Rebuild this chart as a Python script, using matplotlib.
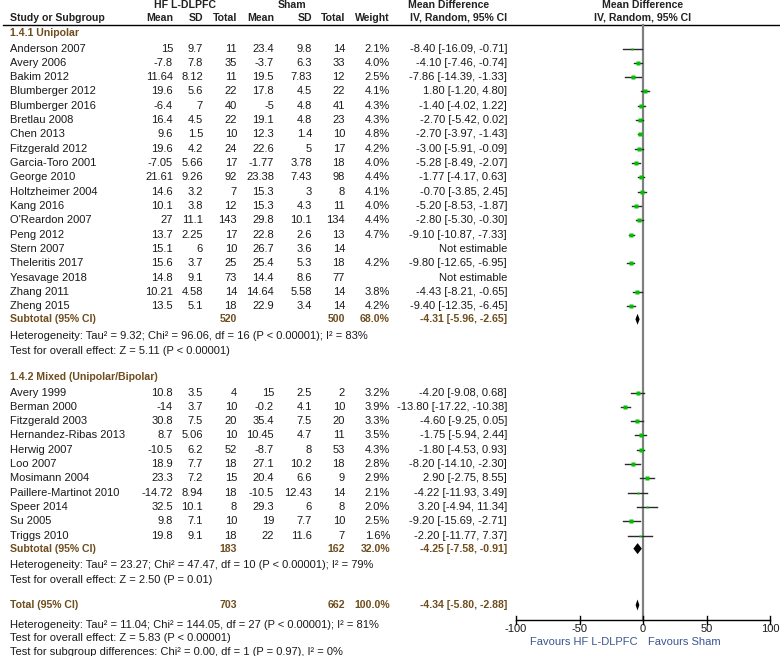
import matplotlib
matplotlib.use("Agg")
import matplotlib.pyplot as plt

plt.rcParams["font.family"] = ["Liberation Sans", "DejaVu Sans"]

# ---- data: 1.4.1 Unipolar ----
uni_names = ["Anderson 2007", "Avery 2006", "Bakim 2012", "Blumberger 2012", "Blumberger 2016",
             "Bretlau 2008", "Chen 2013", "Fitzgerald 2012", "Garcia-Toro 2001", "George 2010",
             "Holtzheimer 2004", "Kang 2016", "O'Reardon 2007", "Peng 2012", "Stern 2007",
             "Theleritis 2017", "Yesavage 2018", "Zhang 2011", "Zheng 2015"]
uni_hf_mean = [15, -7.8, 11.64, 19.6, -6.4, 16.4, 9.6, 19.6, -7.05, 21.61, 14.6, 10.1, 27, 13.7, 15.1, 15.6, 14.8, 10.21, 13.5]
uni_hf_sd = [9.7, 7.8, 8.12, 5.6, 7, 4.5, 1.5, 4.2, 5.66, 9.26, 3.2, 3.8, 11.1, 2.25, 6, 3.7, 9.1, 4.58, 5.1]
uni_hf_n = [11, 35, 11, 22, 40, 22, 10, 24, 17, 92, 7, 12, 143, 17, 10, 25, 73, 14, 18]
uni_sh_mean = [23.4, -3.7, 19.5, 17.8, -5, 19.1, 12.3, 22.6, -1.77, 23.38, 15.3, 15.3, 29.8, 22.8, 26.7, 25.4, 14.4, 14.64, 22.9]
uni_sh_sd = [9.8, 6.3, 7.83, 4.5, 4.8, 4.8, 1.4, 5, 3.78, 7.43, 3, 4.3, 10.1, 2.6, 3.6, 5.3, 8.6, 5.58, 3.4]
uni_sh_n = [14, 33, 12, 22, 41, 23, 10, 17, 18, 98, 8, 11, 134, 13, 14, 18, 77, 14, 14]
uni_weight = [2.1, 4.0, 2.5, 4.1, 4.3, 4.3, 4.8, 4.2, 4.0, 4.4, 4.1, 4.0, 4.4, 4.7, None, 4.2, None, 3.8, 4.2]
uni_md = [-8.40, -4.10, -7.86, 1.80, -1.40, -2.70, -2.70, -3.00, -5.28, -1.77, -0.70, -5.20, -2.80, -9.10, None, -9.80, None, -4.43, -9.40]
uni_lo = [-16.09, -7.46, -14.39, -1.20, -4.02, -5.42, -3.97, -5.91, -8.49, -4.17, -3.85, -8.53, -5.30, -10.87, None, -12.65, None, -8.21, -12.35]
uni_hi = [-0.71, -0.74, -1.33, 4.80, 1.22, 0.02, -1.43, -0.09, -2.07, 0.63, 2.45, -1.87, -0.30, -7.33, None, -6.95, None, -0.65, -6.45]

# ---- data: 1.4.2 Mixed ----
mix_names = ["Avery 1999", "Berman 2000", "Fitzgerald 2003", "Hernandez-Ribas 2013", "Herwig 2007",
             "Loo 2007", "Mosimann 2004", "Paillere-Martinot 2010", "Speer 2014", "Su 2005", "Triggs 2010"]
mix_hf_mean = [10.8, -14, 30.8, 8.7, -10.5, 18.9, 23.3, -14.72, 32.5, 9.8, 19.8]
mix_hf_sd = [3.5, 3.7, 7.5, 5.06, 6.2, 7.7, 7.2, 8.94, 10.1, 7.1, 9.1]
mix_hf_n = [4, 10, 20, 10, 52, 18, 15, 18, 8, 10, 18]
mix_sh_mean = [15, -0.2, 35.4, 10.45, -8.7, 27.1, 20.4, -10.5, 29.3, 19, 22]
mix_sh_sd = [2.5, 4.1, 7.5, 4.7, 8, 10.2, 6.6, 12.43, 6, 7.7, 11.6]
mix_sh_n = [2, 10, 20, 11, 53, 18, 9, 14, 8, 10, 7]
mix_weight = [3.2, 3.9, 3.3, 3.5, 4.3, 2.8, 2.9, 2.1, 2.0, 2.5, 1.6]
mix_md = [-4.20, -13.80, -4.60, -1.75, -1.80, -8.20, 2.90, -4.22, 3.20, -9.20, -2.20]
mix_lo = [-9.08, -17.22, -9.25, -5.94, -4.53, -14.10, -2.75, -11.93, -4.94, -15.69, -11.77]
mix_hi = [0.68, -10.38, 0.05, 2.44, 0.93, -2.30, 8.55, 3.49, 11.34, -2.71, 7.37]

# ---- pooled results ----
pooled_labels = ["Subtotal (95% CI)", "Subtotal (95% CI)", "Total (95% CI)"]
pooled_hf_n = [520, 183, 703]
pooled_sh_n = [500, 162, 662]
pooled_weight = [68.0, 32.0, 100.0]
pooled_md = [-4.31, -4.25, -4.34]
pooled_lo = [-5.96, -7.58, -5.80]
pooled_hi = [-2.65, -0.91, -2.88]
pooled_notes = [
    ["Heterogeneity: Tau\u00b2 = 9.32; Chi\u00b2 = 96.06, df = 16 (P < 0.00001); I\u00b2 = 83%",
     "Test for overall effect: Z = 5.11 (P < 0.00001)"],
    ["Heterogeneity: Tau\u00b2 = 23.27; Chi\u00b2 = 47.47, df = 10 (P < 0.00001); I\u00b2 = 79%",
     "Test for overall effect: Z = 2.50 (P = 0.01)"],
    ["Heterogeneity: Tau\u00b2 = 11.04; Chi\u00b2 = 144.05, df = 27 (P < 0.00001); I\u00b2 = 81%",
     "Test for overall effect: Z = 5.83 (P < 0.00001)",
     "Test for subgroup differences: Chi\u00b2 = 0.00, df = 1 (P = 0.97), I\u00b2 = 0%"],
]
group_titles = ["1.4.1 Unipolar", "1.4.2 Mixed (Unipolar/Bipolar)"]
axis_ticks = [-100, -50, 0, 50, 100]

W, H = 780, 656
fig = plt.figure(figsize=(W / 100, H / 100), dpi=100)
ax = fig.add_axes([0, 0, 1, 1])
ax.set_xlim(0, W)
ax.set_ylim(H, 0)
ax.axis("off")

# forest panel: -100..100 mapped onto x = 516..770 px
fx0, fx1 = 516, 770
fax = fig.add_axes([fx0 / W, 0, (fx1 - fx0) / W, 1])
fax.set_xlim(-100, 100)
fax.set_ylim(H, 0)
fax.axis("off")
fax.patch.set_alpha(0)

FS = 8
TXT = "#1a1a1a"
BROWN = "#6e4d1e"
STEP = 14.33

cols_right = [173, 203, 237, 274, 312, 345, 390]
ci_right = 507

# headers
hb = dict(fontsize=7.6, fontweight="bold", color="#222222", va="center")
ax.text(185, 5, "HF L-DLPFC", ha="center", **hb)
ax.text(292, 5, "Sham", ha="center", **hb)
ax.text(449, 5, "Mean Difference", ha="center", **hb)
ax.text(643, 5, "Mean Difference", ha="center", **hb)
ax.text(10, 18, "Study or Subgroup", ha="left", **hb)
for x, lab in zip(cols_right, ["Mean", "SD", "Total", "Mean", "SD", "Total", "Weight"]):
    ax.text(x, 18, lab, ha="right", **hb)
ax.text(ci_right, 18, "IV, Random, 95% CI", ha="right", **hb)
ax.text(643, 18, "IV, Random, 95% CI", ha="center", **hb)
ax.plot([3, W], [25, 25], color="black", lw=1.0)

# zero line
fax.plot([0, 0], [25, 620], color="#808080", lw=1.6, zorder=1)


def fmt(v):
    return f"{v:g}"


def draw_study(y, name, m1, s1, n1, m2, s2, n2, w, md, lo, hi):
    ax.text(10, y, name, ha="left", va="center", fontsize=FS, color=TXT)
    for x, v in zip(cols_right, [m1, s1, n1, m2, s2, n2]):
        ax.text(x, y, fmt(v), ha="right", va="center", fontsize=FS, color=TXT)
    if w is None:
        ax.text(ci_right, y, "Not estimable", ha="right", va="center", fontsize=FS, color=TXT)
        return
    ax.text(cols_right[6], y, f"{w:.1f}%", ha="right", va="center", fontsize=FS, color=TXT)
    ax.text(ci_right, y, f"{md:.2f} [{lo:.2f}, {hi:.2f}]", ha="right", va="center", fontsize=FS, color=TXT)
    fax.plot([lo, hi], [y, y], color="#2a2a2a", lw=1.0, zorder=2)
    fax.plot([md], [y], marker="s", ms=1.4 * w ** 0.5, color="#00c000", mec="none", zorder=3)


def draw_pooled(y, k):
    bold = dict(fontsize=7.6, fontweight="bold", color=BROWN, va="center")
    ax.text(10, y, pooled_labels[k], ha="left", **bold)
    ax.text(cols_right[2], y, str(pooled_hf_n[k]), ha="right", **bold)
    ax.text(cols_right[5], y, str(pooled_sh_n[k]), ha="right", **bold)
    ax.text(cols_right[6], y, f"{pooled_weight[k]:.1f}%", ha="right", **bold)
    ax.text(ci_right, y, f"{pooled_md[k]:.2f} [{pooled_lo[k]:.2f}, {pooled_hi[k]:.2f}]", ha="right", **bold)
    h = 5.5
    fax.fill([pooled_lo[k], pooled_md[k], pooled_hi[k], pooled_md[k]], [y, y - h, y, y + h],
             color="black", lw=0, zorder=3)


groups = [
    (uni_names, uni_hf_mean, uni_hf_sd, uni_hf_n, uni_sh_mean, uni_sh_sd, uni_sh_n, uni_weight, uni_md, uni_lo, uni_hi),
    (mix_names, mix_hf_mean, mix_hf_sd, mix_hf_n, mix_sh_mean, mix_sh_sd, mix_sh_n, mix_weight, mix_md, mix_lo, mix_hi),
]
title_y = [33, 377]

for g, data in enumerate(groups):
    ty = title_y[g]
    ax.text(10, ty, group_titles[g], ha="left", va="center", fontsize=7.6, fontweight="bold", color=BROWN)
    y = ty + 15.5
    for row in zip(*data):
        draw_study(y, *row)
        y += STEP
    y -= 1.5
    draw_pooled(y, g)
    y += 16.5
    for note in pooled_notes[g]:
        ax.text(10, y, note, ha="left", va="center", fontsize=FS, color=TXT)
        y += 15

# overall total
draw_pooled(605, 2)
for i, note in enumerate(pooled_notes[2]):
    ax.text(10, 625 + i * 13.3, note, ha="left", va="center", fontsize=FS, color=TXT)

# bottom scale
fax.plot([-100, 100], [620, 620], color="black", lw=1.0, clip_on=False)
for t in axis_ticks:
    fax.plot([t, t], [616, 624], color="black", lw=1.0, clip_on=False)
    fax.text(t, 629, str(t), ha="center", va="center", fontsize=FS, color=TXT)
fax.text(-4, 642, "Favours HF L-DLPFC", ha="right", va="center", fontsize=FS, color="#3a5592")
fax.text(4, 642, "Favours Sham", ha="left", va="center", fontsize=FS, color="#3a5592")

fig.savefig("out.png", dpi=100)
